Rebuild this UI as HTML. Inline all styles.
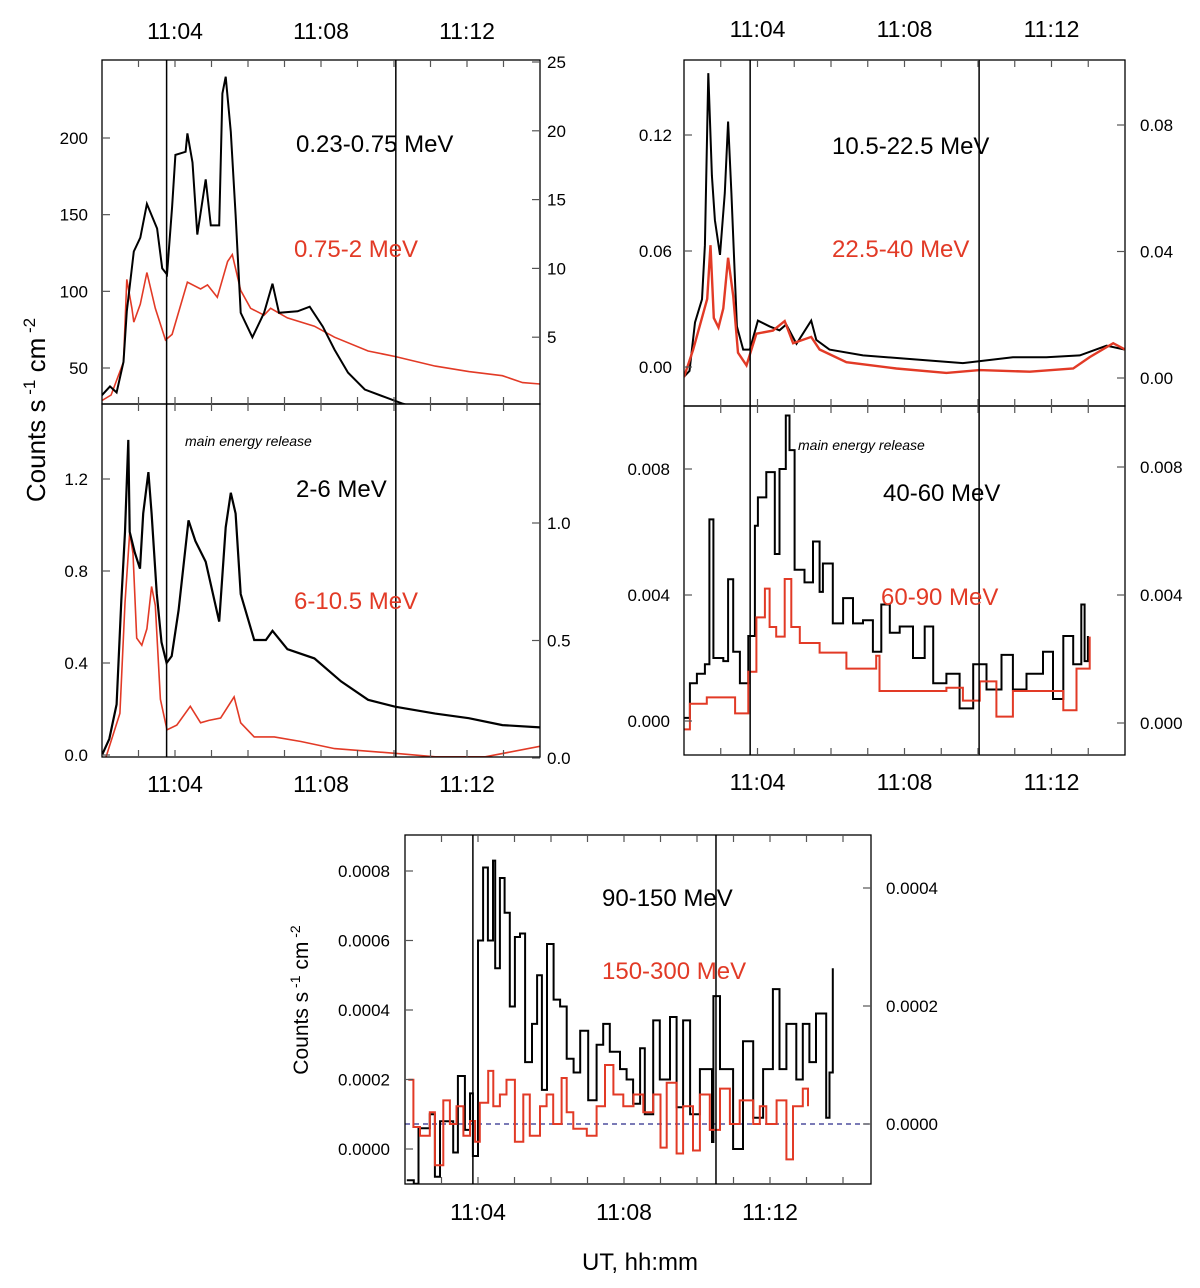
<!DOCTYPE html>
<html><head><meta charset="utf-8">
<style>
html,body{margin:0;padding:0;background:#fff;}
svg{display:block;font-family:"Liberation Sans",Arial,sans-serif;}
</style></head>
<body>
<svg id="fig" width="1200" height="1288" viewBox="0 0 1200 1288" xmlns="http://www.w3.org/2000/svg">
</svg>
<script>
// ---------- DATA (minutes after 11:00, values in axis units) ----------
const tickTimes = [4, 8, 12];
const tickLabels = ["11:04", "11:08", "11:12"];

// 0.23-0.75 MeV (left axis)
const tA = [1.99,2.22,2.4,2.59,2.68,2.87,3.05,3.23,3.51,3.65,3.78,3.92,4.01,4.29,4.34,4.48,4.61,4.84,4.98,5.21,5.3,5.39,5.53,5.66,5.8,6.12,6.44,6.67,6.85,7.36,7.69,8.05,8.37,8.74,9.2,9.75,10.21,10.35];
const vA = [32,38,34,54,87,126,135,157,141,115,111,155,189,191,203,184,137,173,143,143,229,240,204,150,86,70,86,105,86,87,90,77,62,47,36,31,27,26];
// 0.75-2 MeV (right axis)
const tB = [2.0,2.25,2.59,2.68,2.82,2.87,3.05,3.23,3.46,3.74,3.92,4.34,4.7,4.89,5.16,5.44,5.57,5.8,6.07,6.44,6.62,7.08,7.82,8.37,9.29,10.03,11.13,12.05,12.97,13.52,14.0];
const vB = [0.4,0.8,3.2,9.2,7.1,6.1,7.4,9.7,7.1,4.8,5.2,9.0,8.5,8.8,7.9,10.5,11.0,8.4,7.1,6.6,7.1,6.4,5.8,5.0,4.0,3.6,2.9,2.5,2.2,1.7,1.6];
// 2-6 MeV (left axis)
const tC = [2.0,2.2,2.4,2.53,2.63,2.72,2.76,2.9,3.04,3.13,3.27,3.36,3.5,3.63,3.77,3.91,4.1,4.37,4.56,4.84,5.21,5.39,5.53,5.66,5.8,6.17,6.49,6.67,7.08,7.82,8.55,9.29,10.03,11.13,12.05,12.97,14.0];
const vC = [0,0.07,0.22,0.67,0.97,1.37,0.97,0.88,0.81,1.05,1.23,1.05,0.70,0.49,0.40,0.43,0.63,1.02,0.93,0.84,0.58,0.99,1.14,1.05,0.70,0.50,0.50,0.54,0.46,0.42,0.32,0.24,0.21,0.18,0.16,0.13,0.12];
// 6-10.5 MeV (right axis)
const tD = [2.1,2.49,2.63,2.76,2.85,2.95,3.09,3.23,3.36,3.46,3.6,3.78,4.05,4.42,4.7,4.93,5.25,5.62,5.8,6.17,6.72,7.45,8.37,10.03,11.13,12.5,14.0];
const vD = [0,0.19,0.66,0.96,0.87,0.51,0.48,0.55,0.73,0.65,0.25,0.12,0.14,0.22,0.15,0.16,0.17,0.26,0.15,0.09,0.09,0.07,0.04,0.02,0.005,0.005,0.05];
// 10.5-22.5 MeV (left axis)
const tE = [2.0,2.15,2.3,2.49,2.57,2.66,2.76,2.84,2.98,3.11,3.2,3.29,3.44,3.61,3.79,4.01,4.33,4.6,4.78,5.06,5.46,5.6,5.96,6.87,8.23,9.59,10.95,11.86,12.77,13.5,14.0];
const vE = [-0.005,-0.002,0.023,0.035,0.063,0.152,0.099,0.076,0.058,0.09,0.127,0.09,0.021,0.009,0.009,0.024,0.021,0.019,0.022,0.012,0.024,0.014,0.009,0.006,0.004,0.002,0.005,0.005,0.006,0.011,0.009];
// 22.5-40 MeV (right axis)
const tF = [2.0,2.25,2.63,2.72,2.81,2.94,3.07,3.2,3.34,3.47,3.7,3.97,4.42,4.74,4.97,5.46,5.69,6.42,7.78,9.14,10.05,11.41,12.59,13.04,13.68,14.0];
const vF = [0.0003,0.009,0.025,0.042,0.019,0.016,0.022,0.038,0.026,0.008,0.004,0.014,0.015,0.018,0.011,0.013,0.009,0.005,0.003,0.0016,0.0025,0.002,0.003,0.0066,0.011,0.009];
// 40-60 MeV (left axis)
const tG = [2.0,2.16,2.35,2.57,2.69,2.8,3.07,3.2,3.34,3.52,3.75,3.93,4.01,4.24,4.47,4.6,4.77,4.87,5.01,5.28,5.51,5.69,5.78,6.05,6.33,6.6,6.87,7.14,7.37,7.6,7.87,8.23,8.55,8.78,9.14,9.5,9.87,10.23,10.64,10.95,11.32,11.77,12.04,12.32,12.59,12.81,12.9,12.99];
const vG = [0.0001,0.0012,0.0015,0.0018,0.0064,0.0020,0.0019,0.0045,0.0022,0.0012,0.0027,0.0062,0.0071,0.0079,0.0053,0.0080,0.0097,0.0086,0.0048,0.0044,0.0057,0.0041,0.0050,0.0031,0.0039,0.0031,0.0032,0.0022,0.0037,0.0028,0.0030,0.0020,0.0030,0.0012,0.0015,0.0004,0.0018,0.0010,0.0021,0.0010,0.0015,0.0022,0.0007,0.0027,0.0018,0.0037,0.0019,0.0027];
// 60-90 MeV (right axis)
const tH = [2.0,2.16,2.62,3.16,3.39,3.75,3.97,4.2,4.33,4.51,4.74,4.92,5.15,5.69,6.42,7.23,7.32,8.23,9.14,9.59,10.05,10.5,10.95,11.86,12.32,12.68,13.04];
const vH = [-0.0002,0.0006,0.0008,0.0008,0.0003,0.0016,0.0033,0.0042,0.0030,0.0027,0.0045,0.0030,0.0025,0.0022,0.0017,0.0021,0.0010,0.0010,0.0011,0.0007,0.0013,0.0002,0.0010,0.0010,0.0004,0.0017,0.0027];
// 90-150 MeV (left axis)
const tI = [2.05,2.24,2.37,2.68,2.82,2.96,3.32,3.45,3.64,3.78,3.86,4.0,4.14,4.27,4.41,4.47,4.6,4.73,4.87,5.01,5.15,5.29,5.48,5.62,5.75,5.89,6.07,6.25,6.43,6.62,6.8,7.02,7.25,7.43,7.61,7.89,8.07,8.25,8.44,8.57,8.8,8.98,9.26,9.44,9.62,9.81,10.08,10.41,10.45,10.63,10.99,11.26,11.54,11.81,12.08,12.26,12.45,12.72,12.9,13.08,13.26,13.54,13.63,13.72];
const vI = [-0.00009,-0.0001,0.00006,0.0001,-0.00008,0.00008,-0.00001,0.00021,0.000055,0.00016,-0.00002,0.0006,0.00081,0.0006,0.00083,0.00052,0.00078,0.00068,0.00041,0.00061,0.00062,0.00025,0.00036,0.0005,0.00017,0.00059,0.00043,0.00041,0.00026,0.00022,0.00034,0.00014,0.0003,0.00036,0.00028,0.00023,0.0002,0.00013,0.00029,0.0001,0.00037,0.0002,0.00038,0.00012,0.00037,0.0001,0.00023,0.00002,0.00044,0.00023,0,0.00031,0.00009,0.00023,0.00046,0.00023,0.00036,0.0002,0.00036,0.00025,0.00039,0.00009,0.00022,0.00052];
// 150-300 MeV (right axis)
const tJ = [2.09,2.23,2.41,2.68,2.82,3.05,3.23,3.41,3.6,3.78,3.92,4.05,4.28,4.42,4.6,4.78,5.01,5.24,5.42,5.7,5.88,6.06,6.29,6.43,6.61,6.98,7.25,7.48,7.71,7.98,8.26,8.53,8.8,9.0,9.17,9.44,9.62,9.89,10.08,10.35,10.63,10.9,11.17,11.54,11.72,11.9,12.18,12.45,12.63,12.9,13.04];
const vJ = [0.000075,-0.000005,-0.00002,0.00002,-0.00007,0.00004,0,0.00003,-0.00002,0.000005,-0.00003,0.000036,0.00009,0.00003,0.00005,0.000075,-0.00003,0.00005,-0.00002,0.00003,0.00005,0,0.000078,0.00002,-0.000008,-0.00002,0.00003,0.0001,0.00005,0.00003,0.00005,0.00002,0.00005,-0.00004,0.00007,-0.00005,0.00003,-0.000045,0.00005,-0.00001,0.00006,0,0.00004,0,0.00003,0,0.00004,-0.00006,0.00003,0.00006,0.00003];

// ---------- DRAWING ----------
const NS = "http://www.w3.org/2000/svg";
const svg = document.getElementById("fig");
const RED = "#e23a26";
function mk(tag, attrs, parent) {
  const e = document.createElementNS(NS, tag);
  for (const k in attrs) e.setAttribute(k, attrs[k]);
  (parent || svg).appendChild(e);
  return e;
}
function linScale(d0, r0, d1, r1) { return v => r0 + (v - d0) * (r1 - r0) / (d1 - d0); }
let clipId = 0;
function clipFor(x0, y0, x1, y1) {
  const id = "c" + (clipId++);
  const cp = mk("clipPath", { id: id });
  mk("rect", { x: x0, y: y0, width: x1 - x0, height: y1 - y0 }, cp);
  return id;
}
function series(ts, vs, xs, ys, color, width, step, clip, name) {
  let d = "";
  for (let i = 0; i < ts.length; i++) {
    const x = xs(ts[i]).toFixed(1), y = ys(vs[i]).toFixed(1);
    if (i === 0) d += "M" + x + "," + y;
    else if (step) d += "H" + x + "V" + y;
    else d += "L" + x + "," + y;
  }
  const p = mk("path", { d: d, fill: "none", stroke: color, "stroke-width": width, "stroke-linejoin": "miter", "clip-path": "url(#" + clip + ")" });
  
  
}
function text(x, y, s, size, anchor, color, name, extra) {
  const t = mk("text", Object.assign({ x: x, y: y, "font-size": size, "text-anchor": anchor || "start", fill: color || "#000" }, extra || {}));
  t.textContent = s;
  
  
  return t;
}
function box(x0, y0, x1, y1, name) {
  const r = mk("rect", { x: x0, y: y0, width: x1 - x0, height: y1 - y0, fill: "none", stroke: "#000", "stroke-width": 1.3 });
  
  
}
function xTicks(xs, x0, x1, yTop, yBot, t0, t1) {
  for (let t = Math.ceil(t0); t <= t1; t++) {
    const x = xs(t);
    if (x <= x0 + 1 || x >= x1 - 1) continue;
    mk("line", { x1: x, y1: yTop, x2: x, y2: yTop + 7, stroke: "#555", "stroke-width": 1.2 });
    mk("line", { x1: x, y1: yBot, x2: x, y2: yBot - 7, stroke: "#555", "stroke-width": 1.2 });
  }
}
function yTicks(vals, ys, xL, xR, labX, side, fmt, size, name) {
  vals.forEach(v => {
    const y = ys(v);
    if (side === "L") {
      mk("line", { x1: xL, y1: y, x2: xL + 8, y2: y, stroke: "#555", "stroke-width": 1.2 });
      text(labX, y + 6, fmt(v), size, "end", "#000", name);
    } else {
      mk("line", { x1: xR, y1: y, x2: xR - 8, y2: y, stroke: "#555", "stroke-width": 1.2 });
      text(labX, y + 6, fmt(v), size, "start", "#000", name);
    }
  });
}
function vline(x, y0, y1, name) {
  const l = mk("line", { x1: x, y1: y0, x2: x, y2: y1, stroke: "#000", "stroke-width": 1.5 });
  
  
}

// ===== Top-left panel =====
(function () {
  const X0 = 102, X1 = 540, Y0 = 60, YM = 404, Y1 = 757;
  const xs = linScale(2, X0, 14, X1);
  const yA = linScale(50, 368, 200, 138), yB = linScale(0, 406, 25, 62);
  const yC = linScale(0, 755, 1.2, 479), yD = linScale(0, 758, 1.0, 523);
  const cU = clipFor(X0, Y0, X1, YM), cL = clipFor(X0, YM, X1, Y1);
  series(tB, vB, xs, yB, RED, 1.6, false, cU, "series-0.75-2-mev");
  series(tA, vA, xs, yA, "#000", 2, false, cU, "series-0.23-0.75-mev");
  series(tD, vD, xs, yD, RED, 1.6, false, cL, "series-6-10.5-mev");
  series(tC, vC, xs, yC, "#000", 2.2, false, cL, "series-2-6-mev");
  box(X0, Y0, X1, YM, "panel-upper-left-frame");
  box(X0, YM, X1, Y1, "panel-lower-left-frame");
  vline(xs(3.77), Y0, Y1, "start-marker-line");
  vline(xs(10.05), Y0, Y1, "end-marker-line");
  xTicks(xs, X0, X1, Y0, YM, 2, 14); xTicks(xs, X0, X1, YM, Y1, 2, 14);
  yTicks([50, 100, 150, 200], yA, X0, X1, 88, "L", v => String(v), 17, "y-tick-label-left");
  yTicks([5, 10, 15, 20, 25], yB, X0, X1, 547, "R", v => String(v), 17, "y-tick-label-right");
  yTicks([0, 0.4, 0.8, 1.2], yC, X0, X1, 88, "L", v => v.toFixed(1), 17, "y-tick-label-left");
  yTicks([0, 0.5, 1.0], yD, X0, X1, 547, "R", v => v.toFixed(1), 17, "y-tick-label-right");
  tickTimes.forEach((t, i) => {
    text(xs(t), 39, tickLabels[i], 23, "middle", "#000", "x-tick-label-top");
    text(xs(t), 792, tickLabels[i], 23, "middle", "#000", "x-tick-label-bottom");
  });
  text(296, 152, "0.23-0.75 MeV", 24, "start", "#000", "label-0.23-0.75-mev");
  text(294, 257, "0.75-2 MeV", 24, "start", RED, "label-0.75-2-mev");
  text(185, 446, "main energy release", 14, "start", "#000", "annotation-main-energy-release", { "font-style": "italic" });
  text(296, 497, "2-6 MeV", 24, "start", "#000", "label-2-6-mev");
  text(294, 609, "6-10.5 MeV", 24, "start", RED, "label-6-10.5-mev");
  const yt = text(0, 0, "", 26, "middle", "#000", "y-axis-title", { transform: "translate(45,410) rotate(-90)" });
  yt.innerHTML = 'Counts s<tspan dy="-10" font-size="17"> -1</tspan><tspan dy="10"> cm</tspan><tspan dy="-10" font-size="17"> -2</tspan>';
})();

// ===== Top-right panel =====
(function () {
  const X0 = 684, X1 = 1125, Y0 = 60, YM = 406, Y1 = 755;
  const xs = linScale(2, X0, 14, X1);
  const yE = linScale(0, 367, 0.12, 135), yF = linScale(0, 378, 0.08, 125);
  const yG = linScale(0, 721, 0.008, 469), yH = linScale(0, 723, 0.008, 467);
  const cU = clipFor(X0, Y0, X1, YM), cL = clipFor(X0, YM, X1, Y1);
  series(tE, vE, xs, yE, "#000", 2, false, cU, "series-10.5-22.5-mev");
  series(tF, vF, xs, yF, RED, 2.4, false, cU, "series-22.5-40-mev");
  series(tG, vG, xs, yG, "#000", 2, true, cL, "series-40-60-mev");
  series(tH, vH, xs, yH, RED, 2, true, cL, "series-60-90-mev");
  box(X0, Y0, X1, YM, "panel-upper-right-frame");
  box(X0, YM, X1, Y1, "panel-lower-right-frame");
  vline(xs(3.8), Y0, Y1, "start-marker-line");
  vline(xs(10.03), Y0, Y1, "end-marker-line");
  xTicks(xs, X0, X1, Y0, YM, 2, 14); xTicks(xs, X0, X1, YM, Y1, 2, 14);
  yTicks([0, 0.06, 0.12], yE, X0, X1, 672, "L", v => v.toFixed(2), 17, "y-tick-label-left");
  yTicks([0, 0.04, 0.08], yF, X0, X1, 1140, "R", v => v.toFixed(2), 17, "y-tick-label-right");
  yTicks([0, 0.004, 0.008], yG, X0, X1, 670, "L", v => v.toFixed(3), 17, "y-tick-label-left");
  yTicks([0, 0.004, 0.008], yH, X0, X1, 1140, "R", v => v.toFixed(3), 17, "y-tick-label-right");
  tickTimes.forEach((t, i) => {
    text(xs(t), 37, tickLabels[i], 23, "middle", "#000", "x-tick-label-top");
    text(xs(t), 790, tickLabels[i], 23, "middle", "#000", "x-tick-label-bottom");
  });
  text(832, 154, "10.5-22.5 MeV", 24, "start", "#000", "label-10.5-22.5-mev");
  text(832, 257, "22.5-40 MeV", 24, "start", RED, "label-22.5-40-mev");
  text(798, 450, "main energy release", 14, "start", "#000", "annotation-main-energy-release", { "font-style": "italic" });
  text(883, 501, "40-60 MeV", 24, "start", "#000", "label-40-60-mev");
  text(881, 605, "60-90 MeV", 24, "start", RED, "label-60-90-mev");
})();

// ===== Bottom panel =====
(function () {
  const X0 = 405, X1 = 871, Y0 = 835, Y1 = 1184;
  const xs = linScale(2, X0, 14, 843);
  const yI = linScale(0, 1149, 0.0008, 871), yJ = linScale(0, 1124, 0.0004, 888);
  const c = clipFor(X0, Y0, X1, Y1);
  const dl = mk("line", { x1: X0, y1: yJ(0), x2: X1, y2: yJ(0), stroke: "#2a2a8a", "stroke-width": 1.2, "stroke-dasharray": "5,4" });
  
  
  series(tI, vI, xs, yI, "#000", 2, true, c, "series-90-150-mev");
  series(tJ, vJ, xs, yJ, RED, 2, true, c, "series-150-300-mev");
  box(X0, Y0, X1, Y1, "panel-bottom-frame");
  vline(xs(3.86), Y0, Y1, "start-marker-line");
  vline(xs(10.52), Y0, Y1, "end-marker-line");
  xTicks(xs, X0, X1, Y0, Y1, 2, 14.7);
  yTicks([0, 0.0002, 0.0004, 0.0006, 0.0008], yI, X0, X1, 390, "L", v => v.toFixed(4), 17, "y-tick-label-left");
  yTicks([0, 0.0002, 0.0004], yJ, X0, X1, 886, "R", v => v.toFixed(4), 17, "y-tick-label-right");
  tickTimes.forEach((t, i) => text(xs(t), 1220, tickLabels[i], 23, "middle", "#000", "x-tick-label-bottom"));
  text(602, 906, "90-150 MeV", 24, "start", "#000", "label-90-150-mev");
  text(602, 979, "150-300 MeV", 24, "start", RED, "label-150-300-mev");
  text(640, 1270, "UT, hh:mm", 24, "middle", "#000", "x-axis-title");
  const yt = text(0, 0, "", 21, "middle", "#000", "y-axis-title-bottom", { transform: "translate(308,1000) rotate(-90)" });
  yt.innerHTML = 'Counts s<tspan dy="-8" font-size="14"> -1</tspan><tspan dy="8"> cm</tspan><tspan dy="-8" font-size="14"> -2</tspan>';
})();
</script>
</body></html>
